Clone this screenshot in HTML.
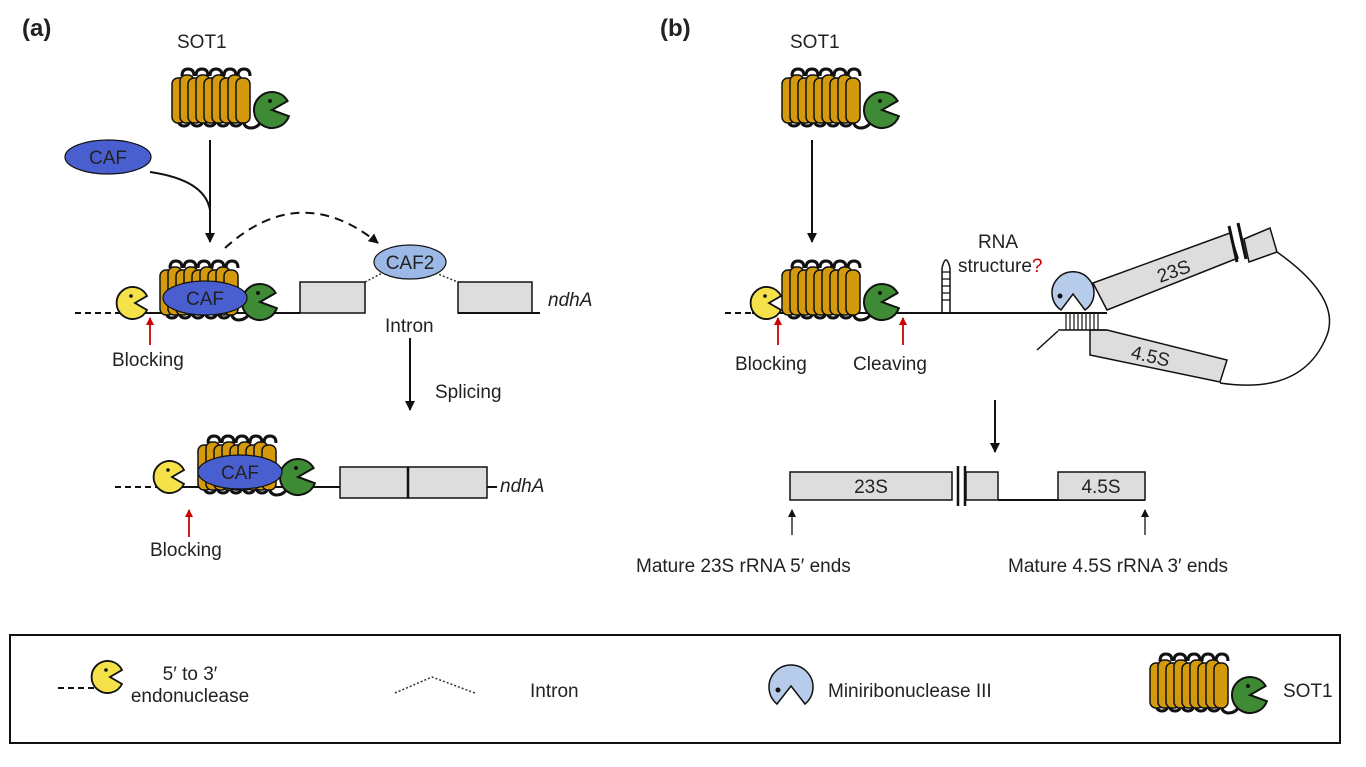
<!DOCTYPE html>
<html><head><meta charset="utf-8"><style>
body{margin:0;background:#fff}
svg{display:block}
text{font-family:"Liberation Sans",sans-serif;fill:#222}
</style></head><body>
<svg width="1366" height="767" viewBox="0 0 1366 767">
<defs>
<marker id="ah" markerWidth="10" markerHeight="10" refX="9" refY="5" orient="auto" markerUnits="userSpaceOnUse"><path d="M0,0 L10,5 L0,10 Z" fill="#111"/></marker>
<marker id="ahs" markerWidth="8" markerHeight="8" refX="7" refY="4" orient="auto" markerUnits="userSpaceOnUse"><path d="M0,0 L8,4 L0,8 Z" fill="#111"/></marker>
<marker id="ahr" markerWidth="8" markerHeight="8" refX="7" refY="4" orient="auto" markerUnits="userSpaceOnUse"><path d="M0,0 L8,4 L0,8 Z" fill="#c00"/></marker>
<g id="sot">
  <g fill="none" stroke="#111" stroke-width="3">
    <path d="M6,48 q0,8 6,8 q6,0 6,-8 M19,48 q0,8 6,8 q6,0 6,-8 M32,48 q0,8 6,8 q6,0 6,-8 M45,48 q0,8 6,8 q6,0 6,-8 M58,48 q0,8 6,8 q6,0 6,-8 M71,48 q0,10 8,10 q6,0 10,-6"/>
    <path d="M10,6 q0,-7 6,-7 q6,0 6,7 M24,6 q0,-7 6,-7 q6,0 6,7 M38,6 q0,-7 6,-7 q6,0 6,7 M52,6 q0,-7 6,-7 q6,0 6,7 M66,6 q0,-7 6,-7 q6,0 6,7"/>
  </g>
  <g fill="#d49a0c" stroke="#111" stroke-width="1.5">
    <rect x="0" y="8" width="14" height="45" rx="6"/><rect x="8" y="5" width="14" height="48" rx="6"/>
    <rect x="16" y="8" width="14" height="45" rx="6"/><rect x="24" y="5" width="14" height="48" rx="6"/>
    <rect x="32" y="8" width="14" height="45" rx="6"/><rect x="40" y="5" width="14" height="48" rx="6"/>
    <rect x="48" y="8" width="14" height="45" rx="6"/><rect x="56" y="5" width="14" height="48" rx="6"/>
    <rect x="64" y="8" width="14" height="45" rx="6"/>
  </g>
  <path d="M115.6,31 A18,18 0 1 0 116.9,46.2 L100,40 Z" fill="#3f8a35" stroke="#111" stroke-width="2"/>
  <circle cx="98" cy="31" r="2" fill="#111"/>
</g>
<g id="pac"><path d="M14,-7 A16,16 0 1 0 14,7 L2,0 Z" fill="#f5e14a" stroke="#111" stroke-width="1.8"/><circle cx="-2" cy="-7" r="1.8" fill="#111"/></g>
</defs>

<rect x="2" y="2" width="1362" height="763" fill="#fff"/>
<text x="22" y="36" font-size="24" font-weight="bold">(a)</text>
<text x="660" y="36" font-size="24" font-weight="bold">(b)</text>

<!-- Panel a -->
<text x="177" y="48" font-size="19">SOT1</text>
<use href="#sot" x="172" y="70"/>
<ellipse cx="108" cy="157" rx="43" ry="17" fill="#4a5fcf" stroke="#111" stroke-width="1.2"/>
<text x="108" y="164" font-size="19" text-anchor="middle">CAF</text>
<line x1="210" y1="140" x2="210" y2="242" stroke="#111" stroke-width="2" marker-end="url(#ah)"/>
<path d="M150,172 Q205,180 210,210" fill="none" stroke="#111" stroke-width="2"/>
<path d="M225,248 Q300,180 378,243" fill="none" stroke="#111" stroke-width="2" stroke-dasharray="9,6" marker-end="url(#ah)"/>

<path d="M75,313 L118,313" stroke="#111" stroke-width="2" stroke-dasharray="6,4"/>
<line x1="118" y1="313" x2="300" y2="313" stroke="#111" stroke-width="2"/>
<use href="#pac" x="133" y="303"/>
<use href="#sot" x="160" y="262"/>
<ellipse cx="205" cy="298" rx="42" ry="17" fill="#4a5fcf" stroke="#111" stroke-width="1.2"/>
<text x="205" y="305" font-size="19" text-anchor="middle">CAF</text>
<rect x="300" y="282" width="65" height="31" fill="#ddd" stroke="#111" stroke-width="1.5"/>
<rect x="458" y="282" width="74" height="31" fill="#ddd" stroke="#111" stroke-width="1.5"/>
<line x1="458" y1="313" x2="540" y2="313" stroke="#111" stroke-width="2"/>
<path d="M365,282 L392,268 M428,270 L458,282" stroke="#333" stroke-width="1.5" stroke-dasharray="2,2"/>
<ellipse cx="410" cy="262" rx="36" ry="17" fill="#9cb8e6" stroke="#111" stroke-width="1.2"/>
<text x="410" y="269" font-size="19" text-anchor="middle">CAF2</text>
<text x="385" y="332" font-size="19">Intron</text>
<text x="548" y="306" font-size="19" font-style="italic">ndhA</text>
<line x1="150" y1="345" x2="150" y2="318" stroke="#c00" stroke-width="1.8" marker-end="url(#ahr)"/>
<text x="112" y="366" font-size="19">Blocking</text>
<line x1="410" y1="338" x2="410" y2="410" stroke="#111" stroke-width="2" marker-end="url(#ah)"/>
<text x="435" y="398" font-size="19">Splicing</text>

<path d="M115,487 L155,487" stroke="#111" stroke-width="2" stroke-dasharray="6,4"/>
<line x1="155" y1="487" x2="497" y2="487" stroke="#111" stroke-width="2"/>
<use href="#pac" x="170" y="477"/>
<use href="#sot" x="198" y="437"/>
<ellipse cx="240" cy="472" rx="42" ry="17" fill="#4a5fcf" stroke="#111" stroke-width="1.2"/>
<text x="240" y="479" font-size="19" text-anchor="middle">CAF</text>
<rect x="340" y="467" width="68" height="31" fill="#ddd" stroke="#111" stroke-width="1.5"/>
<rect x="408" y="467" width="79" height="31" fill="#ddd" stroke="#111" stroke-width="1.5"/>
<line x1="408" y1="467" x2="408" y2="498" stroke="#111" stroke-width="2.5"/>
<text x="500" y="492" font-size="19" font-style="italic">ndhA</text>
<line x1="189" y1="537" x2="189" y2="510" stroke="#c00" stroke-width="1.8" marker-end="url(#ahr)"/>
<text x="150" y="556" font-size="19">Blocking</text>

<!-- Panel b -->
<text x="790" y="48" font-size="19">SOT1</text>
<use href="#sot" x="782" y="70"/>
<line x1="812" y1="140" x2="812" y2="242" stroke="#111" stroke-width="2" marker-end="url(#ah)"/>
<path d="M725,313 L752,313" stroke="#111" stroke-width="2" stroke-dasharray="6,4"/>
<line x1="752" y1="313" x2="1107" y2="313" stroke="#111" stroke-width="2"/>
<use href="#pac" x="767" y="303"/>
<use href="#sot" x="782" y="262"/>
<path d="M942,312 L942,268 M950,312 L950,268 M942,268 Q946,252 950,268" fill="none" stroke="#111" stroke-width="1.5"/>
<path d="M942,300 h8 M942,293 h8 M942,286 h8 M942,279 h8 M942,272 h8" stroke="#111" stroke-width="1.2"/>
<text x="998" y="248" font-size="19" text-anchor="middle">RNA</text>
<text x="958" y="272" font-size="19">structure<tspan fill="#c00">?</tspan></text>
<line x1="778" y1="345" x2="778" y2="318" stroke="#c00" stroke-width="1.8" marker-end="url(#ahr)"/>
<text x="735" y="370" font-size="19">Blocking</text>
<line x1="903" y1="345" x2="903" y2="318" stroke="#c00" stroke-width="1.8" marker-end="url(#ahr)"/>
<text x="853" y="370" font-size="19">Cleaving</text>

<polygon points="1093,283 1230,233 1238,258 1107,310" fill="#ddd" stroke="#111" stroke-width="1.5"/>
<polygon points="1244,239 1270,228 1277,252 1249,262" fill="#ddd" stroke="#111" stroke-width="1.5"/>
<line x1="1229" y1="226" x2="1237" y2="262" stroke="#111" stroke-width="3"/>
<line x1="1238" y1="223" x2="1246" y2="259" stroke="#111" stroke-width="3"/>
<path d="M1277,252 Q1345,300 1325,340 Q1300,395 1220,383" fill="none" stroke="#111" stroke-width="1.5"/>
<text x="1160" y="283" font-size="19" transform="rotate(-20 1160 283)">23S</text>
<polygon points="1090,330 1107,330 1227,360 1220,382 1090,355" fill="#ddd" stroke="#111" stroke-width="1.5"/>
<text x="1130" y="358" font-size="19" transform="rotate(13 1130 358)">4.5S</text>
<path d="M1063,313 h44 M1058,330 h49" stroke="#111" stroke-width="1.5"/>
<path d="M1066,313 v17 M1070,313 v17 M1074,313 v17 M1078,313 v17 M1082,313 v17 M1086,313 v17 M1090,313 v17 M1094,313 v17 M1098,313 v17" stroke="#111" stroke-width="1.2"/>
<path d="M1037,350 L1058,331" fill="none" stroke="#111" stroke-width="1.5"/>
<path d="M1061,310 A21,21 0 1 1 1085,310 L1073,294 Z" fill="#b7cbea" stroke="#111" stroke-width="1.5"/>
<circle cx="1060" cy="296" r="2.5" fill="#111"/>

<line x1="995" y1="400" x2="995" y2="452" stroke="#111" stroke-width="2" marker-end="url(#ah)"/>
<rect x="790" y="472" width="162" height="28" fill="#ddd" stroke="#111" stroke-width="1.5"/>
<text x="871" y="493" font-size="19" text-anchor="middle">23S</text>
<line x1="958" y1="466" x2="958" y2="506" stroke="#111" stroke-width="2.5"/>
<line x1="965" y1="466" x2="965" y2="506" stroke="#111" stroke-width="2.5"/>
<rect x="966" y="472" width="32" height="28" fill="#ddd" stroke="#111" stroke-width="1.5"/>
<line x1="998" y1="500" x2="1145" y2="500" stroke="#111" stroke-width="2"/>
<rect x="1058" y="472" width="87" height="28" fill="#ddd" stroke="#111" stroke-width="1.5"/>
<text x="1101" y="493" font-size="19" text-anchor="middle">4.5S</text>
<line x1="792" y1="535" x2="792" y2="510" stroke="#111" stroke-width="1.3" marker-end="url(#ahs)"/>
<line x1="1145" y1="535" x2="1145" y2="510" stroke="#111" stroke-width="1.3" marker-end="url(#ahs)"/>
<text x="636" y="572" font-size="19">Mature 23S rRNA 5′ ends</text>
<text x="1008" y="572" font-size="19">Mature 4.5S rRNA 3′ ends</text>

<!-- Legend -->
<rect x="10" y="635" width="1330" height="108" fill="#fff" stroke="#111" stroke-width="2"/>
<path d="M58,688 L95,688" stroke="#111" stroke-width="2" stroke-dasharray="6,4"/>
<use href="#pac" x="108" y="677"/>
<text x="190" y="680" font-size="19" text-anchor="middle">5′ to 3′</text>
<text x="190" y="702" font-size="19" text-anchor="middle">endonuclease</text>
<path d="M395,693 L432,677 L475,693" fill="none" stroke="#333" stroke-width="1.5" stroke-dasharray="2,2"/>
<text x="530" y="697" font-size="19">Intron</text>
<path d="M777,704 A22,22 0 1 1 805,704 L791,686 Z" fill="#b7cbea" stroke="#111" stroke-width="1.5"/>
<circle cx="778" cy="690" r="2.5" fill="#111"/>
<text x="828" y="697" font-size="19">Miniribonuclease III</text>
<use href="#sot" x="1150" y="655"/>
<text x="1283" y="697" font-size="19">SOT1</text>
</svg>
</body></html>
